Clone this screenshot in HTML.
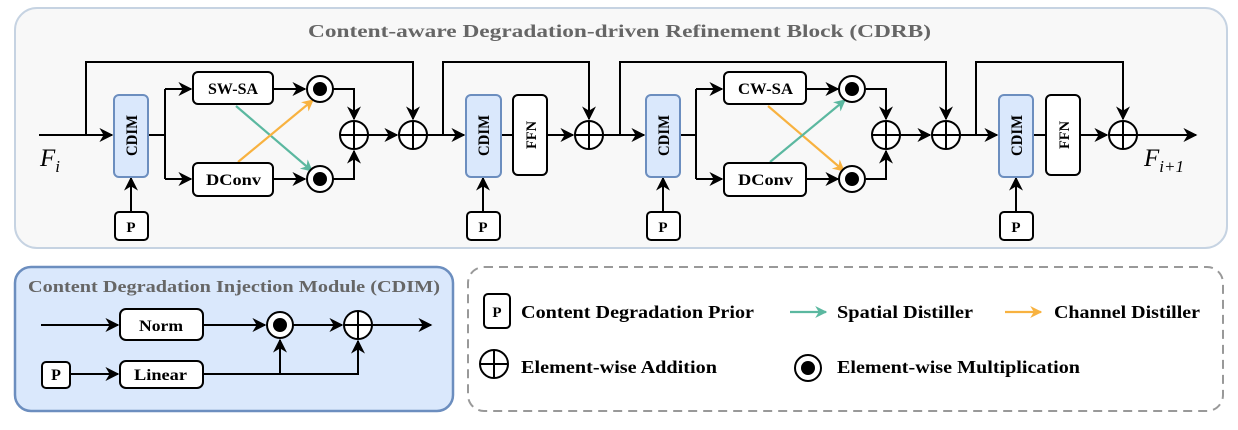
<!DOCTYPE html>
<html><head><meta charset="utf-8"><style>
body{margin:0;background:#fff;}
svg text{font-family:"Liberation Serif","Times New Roman","Nimbus Roman",serif;font-weight:bold;}
</style></head><body>
<svg width="1238" height="425" viewBox="0 0 1238 425" xmlns="http://www.w3.org/2000/svg">
<defs>
<marker id="ak" viewBox="0 0 10 10" refX="9" refY="5" markerWidth="14" markerHeight="14" orient="auto" markerUnits="userSpaceOnUse"><path d="M0,0 L10,5 L0,10 L3,5 z" fill="#000"/></marker>
<marker id="ag" viewBox="0 0 10 10" refX="9" refY="5" markerWidth="12" markerHeight="12" orient="auto" markerUnits="userSpaceOnUse"><path d="M0,0 L10,5 L0,10 L3,5 z" fill="#5bb8a0"/></marker>
<marker id="ao" viewBox="0 0 10 10" refX="9" refY="5" markerWidth="12" markerHeight="12" orient="auto" markerUnits="userSpaceOnUse"><path d="M0,0 L10,5 L0,10 L3,5 z" fill="#f8b240"/></marker>
</defs>
<rect x="15" y="8" width="1212" height="240" rx="22" fill="#f8f8f8" stroke="#c6d3e2" stroke-width="2"/>
<text x="308" y="37" font-size="18" fill="#666" textLength="623" lengthAdjust="spacingAndGlyphs">Content-aware Degradation-driven Refinement Block (CDRB)</text>
<g stroke="#000" stroke-width="2" fill="none">
<path d="M39,135 H112" marker-end="url(#ak)"/>
<path d="M86,135 V62 H413 V119" marker-end="url(#ak)"/>
<path d="M148,135 H165 M165,89 V179"/>
<path d="M165,89 H191" marker-end="url(#ak)"/>
<path d="M165,179 H191" marker-end="url(#ak)"/>
<path d="M273,89 H305" marker-end="url(#ak)"/>
<path d="M273,179 H305" marker-end="url(#ak)"/>
<path d="M333,89 H354 V119" marker-end="url(#ak)"/>
<path d="M333,179 H354 V151" marker-end="url(#ak)"/>
<path d="M368,135 H397" marker-end="url(#ak)"/>
<path d="M427,135 H464" marker-end="url(#ak)"/>
<path d="M443,135 V62 H589 V119" marker-end="url(#ak)"/>
<path d="M501,135 H513 M547,135 H573" marker-end="url(#ak)"/>
<path d="M603,135 H644" marker-end="url(#ak)"/>
<path d="M620,135 V62 H946 V119" marker-end="url(#ak)"/>
<path d="M680,135 H696 M696,89 V179"/>
<path d="M696,89 H722" marker-end="url(#ak)"/>
<path d="M696,179 H722" marker-end="url(#ak)"/>
<path d="M806,89 H838" marker-end="url(#ak)"/>
<path d="M806,179 H838" marker-end="url(#ak)"/>
<path d="M866,89 H886 V119" marker-end="url(#ak)"/>
<path d="M866,179 H886 V151" marker-end="url(#ak)"/>
<path d="M900,135 H930" marker-end="url(#ak)"/>
<path d="M960,135 H997" marker-end="url(#ak)"/>
<path d="M976,135 V62 H1123 V119" marker-end="url(#ak)"/>
<path d="M1033,135 H1046 M1080,135 H1107" marker-end="url(#ak)"/>
<path d="M1137,135 H1196" marker-end="url(#ak)"/>
<path d="M131,212 V178" marker-end="url(#ak)"/>
<path d="M483,212 V178" marker-end="url(#ak)"/>
<path d="M663,212 V178" marker-end="url(#ak)"/>
<path d="M1016,212 V178" marker-end="url(#ak)"/>
</g>
<g stroke-width="2.2" fill="none">
<path d="M236,106 L312,171" stroke="#5bb8a0" marker-end="url(#ag)"/>
<path d="M238,162 L313,100" stroke="#f8b240" marker-end="url(#ao)"/>
<path d="M768,106 L844,171" stroke="#f8b240" marker-end="url(#ao)"/>
<path d="M770,162 L845,100" stroke="#5bb8a0" marker-end="url(#ag)"/>
</g>
<g fill="#dae8fc" stroke="#6c8ebf" stroke-width="2">
<rect x="114" y="95" width="34" height="82" rx="5"/>
<rect x="466" y="95" width="35" height="82" rx="5"/>
<rect x="646" y="95" width="34" height="82" rx="5"/>
<rect x="999" y="95" width="34" height="82" rx="5"/>
</g>
<g font-size="16">
<text transform="translate(137,156) rotate(-90)" textLength="41" lengthAdjust="spacingAndGlyphs">CDIM</text>
<text transform="translate(489,156) rotate(-90)" textLength="41" lengthAdjust="spacingAndGlyphs">CDIM</text>
<text transform="translate(669,156) rotate(-90)" textLength="41" lengthAdjust="spacingAndGlyphs">CDIM</text>
<text transform="translate(1022,156) rotate(-90)" textLength="41" lengthAdjust="spacingAndGlyphs">CDIM</text>
</g>
<g fill="#fff" stroke="#000" stroke-width="2">
<rect x="513" y="95" width="34" height="80" rx="5"/>
<rect x="1046" y="95" width="34" height="80" rx="5"/>
<rect x="193" y="72" width="80" height="32" rx="5"/>
<rect x="193" y="163" width="80" height="33" rx="5"/>
<rect x="724" y="72" width="82" height="32" rx="5"/>
<rect x="724" y="163" width="82" height="33" rx="5"/>
<rect x="115" y="212" width="33" height="28" rx="4"/>
<rect x="467" y="212" width="33" height="28" rx="4"/>
<rect x="647" y="212" width="33" height="28" rx="4"/>
<rect x="1000" y="212" width="33" height="28" rx="4"/>
</g>
<g font-size="15">
<text transform="translate(536,149) rotate(-90)" textLength="28" lengthAdjust="spacingAndGlyphs">FFN</text>
<text transform="translate(1069,149) rotate(-90)" textLength="28" lengthAdjust="spacingAndGlyphs">FFN</text>
</g>
<g font-size="16">
<text x="208" y="94" textLength="50" lengthAdjust="spacingAndGlyphs">SW-SA</text>
<text x="206" y="185" textLength="55" lengthAdjust="spacingAndGlyphs">DConv</text>
<text x="738" y="94" textLength="55" lengthAdjust="spacingAndGlyphs">CW-SA</text>
<text x="738" y="185" textLength="55" lengthAdjust="spacingAndGlyphs">DConv</text>
</g>
<g font-size="15" text-anchor="middle">
<text x="131" y="232">P</text>
<text x="483" y="232">P</text>
<text x="663" y="232">P</text>
<text x="1016" y="232">P</text>
</g>
<g stroke="#000" stroke-width="2" fill="#fff">
<circle cx="320" cy="89" r="13"/><circle cx="320" cy="179" r="13"/>
<circle cx="852" cy="89" r="13"/><circle cx="852" cy="179" r="13"/>
</g>
<g fill="#000">
<circle cx="320" cy="89" r="7"/><circle cx="320" cy="179" r="7"/>
<circle cx="852" cy="89" r="7"/><circle cx="852" cy="179" r="7"/>
</g>
<g stroke="#000" stroke-width="2" fill="#fff">
<g transform="translate(354,135)"><circle r="14"/><path d="M-14,0H14M0,-14V14"/></g>
<g transform="translate(413,135)"><circle r="14"/><path d="M-14,0H14M0,-14V14"/></g>
<g transform="translate(589,135)"><circle r="14"/><path d="M-14,0H14M0,-14V14"/></g>
<g transform="translate(886,135)"><circle r="14"/><path d="M-14,0H14M0,-14V14"/></g>
<g transform="translate(946,135)"><circle r="14"/><path d="M-14,0H14M0,-14V14"/></g>
<g transform="translate(1123,135)"><circle r="14"/><path d="M-14,0H14M0,-14V14"/></g>
</g>
<text x="40" y="166" font-size="25" font-style="italic" style="font-weight:normal">F<tspan font-size="17" dy="6">i</tspan></text>
<text x="1144" y="166" font-size="25" font-style="italic" style="font-weight:normal">F<tspan font-size="17" dy="6">i+1</tspan></text>

<rect x="15" y="267" width="438" height="144" rx="16" fill="#dae8fc" stroke="#6c8ebf" stroke-width="2.5"/>
<text x="28" y="292" font-size="17" fill="#666" textLength="412" lengthAdjust="spacingAndGlyphs">Content Degradation Injection Module (CDIM)</text>
<g stroke="#000" stroke-width="2" fill="none">
<path d="M41,325 H118" marker-end="url(#ak)"/>
<path d="M203,325 H265" marker-end="url(#ak)"/>
<path d="M293,325 H342" marker-end="url(#ak)"/>
<path d="M372,325 H431" marker-end="url(#ak)"/>
<path d="M70,374 H118" marker-end="url(#ak)"/>
<path d="M203,374 H358 V341" marker-end="url(#ak)"/>
<path d="M280,374 V340" marker-end="url(#ak)"/>
</g>
<g fill="#fff" stroke="#000" stroke-width="2">
<rect x="120" y="309" width="83" height="31" rx="6"/>
<rect x="120" y="361" width="83" height="27" rx="6"/>
<rect x="42" y="362" width="28" height="26" rx="4"/>
<g transform="translate(358,325)"><circle r="14"/><path d="M-14,0H14M0,-14V14"/></g>
<circle cx="280" cy="325" r="13"/>
</g>
<circle cx="280" cy="325" r="7" fill="#000"/>
<g font-size="16">
<text x="139" y="331" textLength="44" lengthAdjust="spacingAndGlyphs">Norm</text>
<text x="134" y="380" textLength="53" lengthAdjust="spacingAndGlyphs">Linear</text>
<text x="56" y="380" text-anchor="middle">P</text>
</g>

<rect x="468" y="267" width="755" height="144" rx="16" fill="#fff" stroke="#999" stroke-width="2" stroke-dasharray="9,6"/>
<rect x="484" y="294" width="26" height="34" rx="4" fill="#fff" stroke="#000" stroke-width="2"/>
<text x="497" y="317" font-size="15" text-anchor="middle">P</text>
<g stroke="#000" stroke-width="2" fill="#fff"><g transform="translate(494,364)"><circle r="14"/><path d="M-14,0H14M0,-14V14"/></g>
<circle cx="808" cy="368" r="13"/></g>
<circle cx="808" cy="368" r="7" fill="#000"/>
<path d="M790,312 H826" stroke="#5bb8a0" stroke-width="2.2" marker-end="url(#ag)"/>
<path d="M1005,312 H1041" stroke="#f8b240" stroke-width="2.2" marker-end="url(#ao)"/>
<g font-size="18">
<text x="521" y="318" textLength="233" lengthAdjust="spacingAndGlyphs">Content Degradation Prior</text>
<text x="837" y="318" textLength="136" lengthAdjust="spacingAndGlyphs">Spatial Distiller</text>
<text x="1054" y="318" textLength="146" lengthAdjust="spacingAndGlyphs">Channel Distiller</text>
<text x="521" y="373" textLength="196" lengthAdjust="spacingAndGlyphs">Element-wise Addition</text>
<text x="837" y="373" textLength="243" lengthAdjust="spacingAndGlyphs">Element-wise Multiplication</text>
</g>
</svg>
</body></html>
